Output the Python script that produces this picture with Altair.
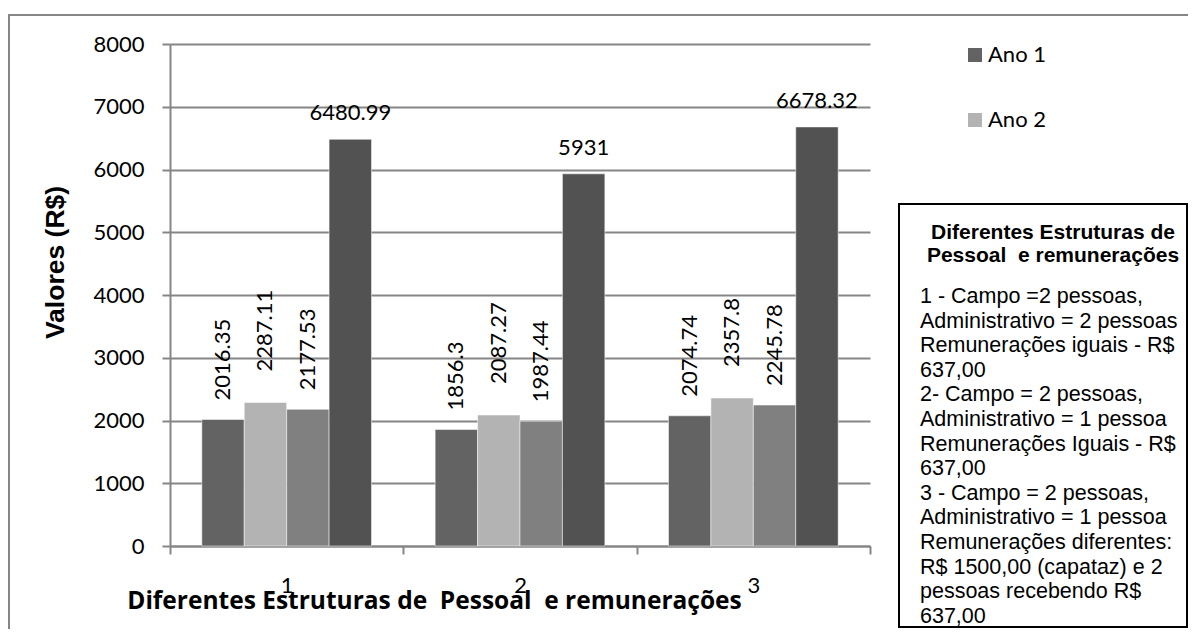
import altair as alt
import pandas as pd

grupos = ["1", "2", "3"]
series = ["Ano 1", "Ano 2", "Ano 3", "Total"]
ano1 = [2016.35, 1856.3, 2074.74]
ano2 = [2287.11, 2087.27, 2357.8]
ano3 = [2177.53, 1987.44, 2245.78]
total = [6480.99, 5931, 6678.32]
cores = ["#636363", "#b3b3b3", "#808080", "#525252"]

y_ticks = [0, 1000, 2000, 3000, 4000, 5000, 6000, 7000, 8000]
x_title = "Diferentes Estruturas de \u00a0Pessoal \u00a0e remunerações"
y_title = "Valores (R$)"
box_title = ["Diferentes Estruturas de", "Pessoal \u00a0e remunerações"]
box_body = [
    "1 - Campo =2 pessoas,",
    "Administrativo = 2 pessoas",
    "Remunerações iguais - R$",
    "637,00",
    "2- Campo = 2 pessoas,",
    "\u00a0Administrativo = 1 pessoa",
    "Remunerações Iguais - R$",
    "637,00",
    "3 - Campo = 2 pessoas,",
    "Administrativo = 1 pessoa",
    "Remunerações diferentes:",
    "R$ 1500,00 (capataz) e 2",
    "pessoas recebendo R$",
    "637,00",
]

rows = []
for i, g in enumerate(grupos):
    for s, vals in zip(series, [ano1, ano2, ano3, total]):
        v = vals[i]
        rows.append({"grupo": g, "serie": s, "valor": v, "label": format(v, "g")})
df = pd.DataFrame(rows)

GRID = "#868686"
W, H = 700, 502

x_enc = alt.X(
    "grupo:N",
    sort=grupos,
    scale=alt.Scale(paddingInner=0, paddingOuter=0),
    axis=alt.Axis(
        title=x_title,
        labelAngle=0,
        labelFont="Lato",
        labelFontSize=22,
        labelColor="#000",
        labelBaseline="alphabetic",
        labelPadding=38,
        tickBand="extent",
        tickSize=8,
        tickColor=GRID,
        tickWidth=2,
        domainColor=GRID,
        domainWidth=2,
        titleFont="Open Sans",
        titleFontWeight="bold",
        titleFontSize=24.5,
        titleColor="#000",
        titleX=264,
        titleY=62,
        titleAlign="center",
        titleBaseline="alphabetic",
    ),
)
xoff_enc = alt.XOffset(
    "serie:N", scale=alt.Scale(domain=series, paddingOuter=0.75, paddingInner=0)
)
y_enc = alt.Y(
    "valor:Q",
    scale=alt.Scale(domain=[0, 8000], nice=False),
    axis=alt.Axis(
        title=y_title,
        values=y_ticks,
        format="d",
        labelFont="Lato",
        labelFontSize=22,
        labelColor="#000",
        labelPadding=18,
        tickSize=8,
        tickColor=GRID,
        tickWidth=2,
        domainColor=GRID,
        domainWidth=2,
        gridColor=GRID,
        gridWidth=2,
        titleFont="Liberation Sans",
        titleFontWeight="bold",
        titleFontSize=26.5,
        titleColor="#000",
        titleAngle=270,
        titleX=-107,
        titleY=218,
        titleAlign="center",
        titleBaseline="alphabetic",
    ),
)

base = alt.Chart(df)

bars = base.mark_bar(stroke="#ffffff", strokeWidth=0.5).encode(
    x=x_enc,
    xOffset=xoff_enc,
    y=y_enc,
    color=alt.Color(
        "serie:N",
        scale=alt.Scale(domain=series, range=cores),
        legend=alt.Legend(
            values=["Ano 1", "Ano 2"],
            title=None,
            orient="none",
            legendX=794,
            legendY=0,
            symbolType="square",
            symbolSize=196,
            symbolStrokeWidth=0,
            labelFont="Lato",
            labelFontSize=22,
            labelColor="#000",
            labelOffset=2,
            rowPadding=43,
            padding=0,
        ),
    ),
)

rot_common = dict(angle=270, align="left", baseline="middle", font="Lato", fontSize=22, color="#000")
rot_a = base.transform_filter(
    alt.FieldOneOfPredicate(field="serie", oneOf=["Ano 1", "Ano 3"])
).mark_text(dx=19, **rot_common).encode(x="grupo:N", xOffset="serie:N", y="valor:Q", text="label:N")
rot_b = base.transform_filter(
    alt.FieldEqualPredicate(field="serie", equal="Ano 2")
).mark_text(dx=31, **rot_common).encode(x="grupo:N", xOffset="serie:N", y="valor:Q", text="label:N")
tot_txt = base.transform_filter(
    alt.FieldEqualPredicate(field="serie", equal="Total")
).mark_text(
    align="center", baseline="alphabetic", dy=-19, font="Lato", fontSize=22, color="#000"
).encode(x="grupo:N", xOffset="serie:N", y="valor:Q", text="label:N")

deco = alt.Chart(pd.DataFrame({"k": [0]}))
outer = deco.mark_rect(fill=None, stroke=GRID, strokeWidth=2).encode(
    x=alt.value(-161), x2=alt.value(1200), y=alt.value(-29), y2=alt.value(800)
)
box = deco.mark_rect(fill="#ffffff", stroke="#000000", strokeWidth=2).encode(
    x=alt.value(729), x2=alt.value(1017), y=alt.value(160), y2=alt.value(583)
)
box_t = deco.mark_text(
    text=box_title, align="center", baseline="alphabetic", font="Liberation Sans",
    fontWeight="bold", fontSize=21, lineHeight=23, color="#000"
).encode(x=alt.value(883), y=alt.value(195))
box_b = deco.mark_text(
    text=box_body, align="left", baseline="alphabetic", font="Liberation Sans",
    fontSize=21.5, lineHeight=24.6, color="#000"
).encode(x=alt.value(750), y=alt.value(259))

chart = alt.layer(outer, bars, rot_a, rot_b, tot_txt, box, box_t, box_b).properties(
    width=W,
    height=H,
    padding={"left": 162, "top": 36, "right": 318, "bottom": 83},
    autosize=alt.AutoSizeParams(type="none"),
).configure_view(stroke=None).configure_axisY(grid=True).configure_axisX(grid=False)

chart.save("out.html", embed_options={"renderer": "svg", "actions": False})
